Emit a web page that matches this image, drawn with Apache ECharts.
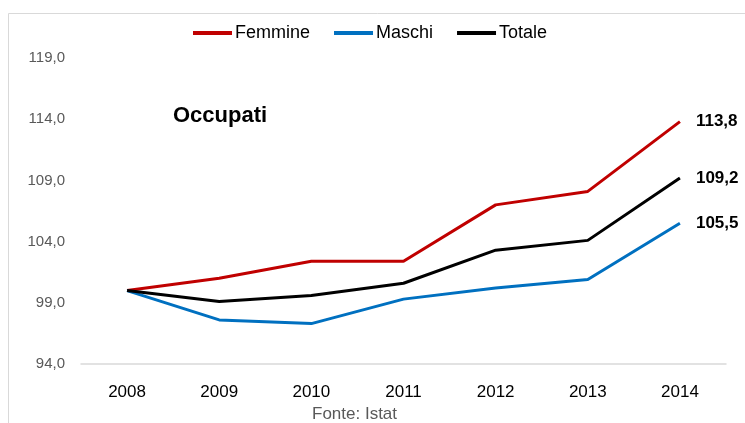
<!DOCTYPE html>
<html>
<head>
<meta charset="utf-8">
<script src="https://cdn.jsdelivr.net/npm/echarts@6/dist/echarts.min.js"></script>
<style>
html,body{margin:0;padding:0;background:#fff;}
#chart{width:745px;height:423px;}
</style>
</head>
<body>
<div id="chart"></div>
<script>
const years = ['2008','2009','2010','2011','2012','2013','2014'];
const femmine = [100.0, 101.0, 102.4, 102.4, 107.0, 108.1, 113.8];
const maschi  = [100.0, 97.6, 97.3, 99.3, 100.2, 100.9, 105.5];
const totale  = [100.0, 99.1, 99.6, 100.6, 103.3, 104.1, 109.2];
const yTicks = [94, 99, 104, 109, 114, 119];

const fmt = v => v.toFixed(1).replace('.', ',');
const FONT = '"Liberation Sans", Arial, sans-serif';

function mk(name, data, color) {
  return {
    name: name,
    type: 'line',
    data: data,
    symbol: 'none',
    smooth: false,
    lineStyle: { color: color, width: 3 },
    itemStyle: { color: color },
    endLabel: {
      show: true,
      distance: 16,
      fontFamily: FONT,
      fontWeight: 'bold',
      fontSize: 17,
      color: '#000',
      formatter: p => fmt(p.value)
    },
    emphasis: { disabled: true }
  };
}

const chart = echarts.init(document.getElementById('chart'), null, { renderer: 'canvas' });
chart.setOption({
  animation: false,
  backgroundColor: '#fff',
  graphic: [
    { type: 'rect', shape: { x: 8.5, y: 13.5, width: 800, height: 500 },
      style: { fill: 'none', stroke: '#d9d9d9', lineWidth: 1 }, z: -1 },
    { type: 'text', left: 173, top: 105,
      style: { text: 'Occupati', fontFamily: FONT, fontWeight: 'bold', fontSize: 22, fill: '#000' } },
    { type: 'text', left: 312, top: 406,
      style: { text: 'Fonte: Istat', fontFamily: FONT, fontSize: 17, fill: '#595959' } }
  ],
  legend: {
    top: 19,
    left: 188,
    icon: 'rect',
    itemWidth: 39,
    itemHeight: 4,
    itemGap: 24,
    textStyle: { fontFamily: FONT, fontSize: 18, color: '#000', padding: [0, 0, 0, -2] },
    data: ['Femmine', 'Maschi', 'Totale']
  },
  grid: { left: 81, right: 19, top: 58, bottom: 59, containLabel: false },
  xAxis: {
    type: 'category',
    data: years,
    boundaryGap: true,
    axisLine: { lineStyle: { color: '#d9d9d9', width: 1.5 } },
    axisTick: { show: false },
    axisLabel: { fontFamily: FONT, fontSize: 17, color: '#000', margin: 20 }
  },
  yAxis: {
    type: 'value',
    min: yTicks[0],
    max: yTicks[yTicks.length - 1],
    interval: 5,
    axisLine: { show: false },
    axisTick: { show: false },
    splitLine: { show: false },
    axisLabel: { fontFamily: FONT, fontSize: 15, color: '#595959', margin: 16, formatter: v => fmt(v) }
  },
  series: [
    mk('Femmine', femmine, '#C00000'),
    mk('Maschi', maschi, '#0070C0'),
    mk('Totale', totale, '#000000')
  ]
});
</script>
</body>
</html>
